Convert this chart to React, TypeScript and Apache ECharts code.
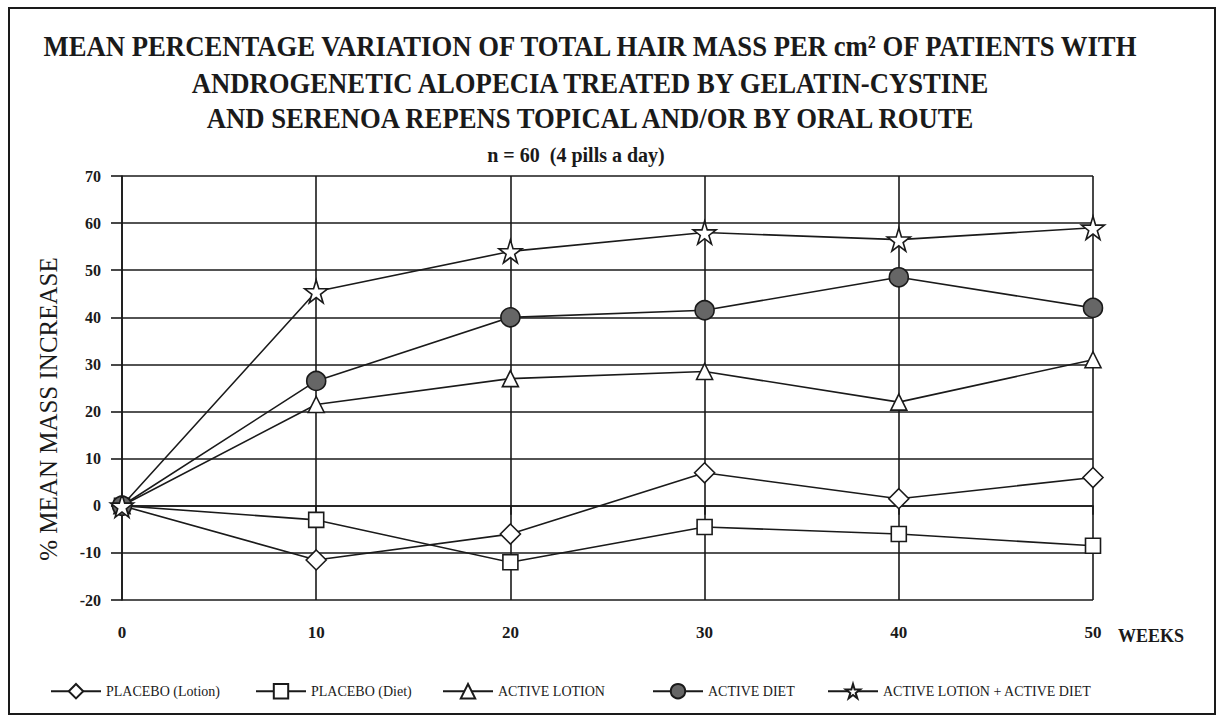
import React, { useEffect, useRef } from "react";
import * as echarts from "echarts";

const weeks = [0, 10, 20, 30, 40, 50];
const placeboLotion = [0, -11.5, -6, 7, 1.5, 6];
const placeboDiet = [0, -3, -12, -4.5, -6, -8.5];
const activeLotion = [0, 21.5, 27, 28.5, 22, 31];
const activeDiet = [0, 26.5, 40, 41.5, 48.5, 42];
const lotionPlusDiet = [0, 45.5, 54, 58, 56.5, 59];

const seriesNames = [
  "PLACEBO (Lotion)",
  "PLACEBO (Diet)",
  "ACTIVE LOTION",
  "ACTIVE DIET",
  "ACTIVE LOTION + ACTIVE DIET",
];
const titleLines = [
  "MEAN PERCENTAGE VARIATION OF TOTAL HAIR MASS PER cm² OF PATIENTS WITH",
  "ANDROGENETIC ALOPECIA TREATED BY GELATIN-CYSTINE",
  "AND SERENOA REPENS TOPICAL AND/OR BY ORAL ROUTE",
];
const subtitle = "n = 60  (4 pills a day)";
const yAxisTitle = "% MEAN MASS INCREASE";
const xAxisUnit = "WEEKS";

const STAR = "path://M50,0 L61,35 L98,35 L68,57 L79,91 L50,70 L21,91 L32,57 L2,35 L39,35 Z";

export default function App() {
  const ref = useRef<HTMLDivElement>(null);
  useEffect(() => {
    const chart = echarts.init(ref.current!, null, { renderer: "svg" });
    const ink = "#1a1a1a";
    const serif = "'Liberation Serif', 'DejaVu Serif', serif";
    const mk = (name: string, vals: number[], symbol: string, size: number, fill: string) => ({
      name,
      type: "line",
      data: weeks.map((w, i) => [w, vals[i]]),
      symbol,
      symbolSize: size,
      lineStyle: { color: ink, width: 1.6 },
      itemStyle: { color: fill, borderColor: ink, borderWidth: 1.6 },
      z: 3,
    });
    const legendLefts = [45, 250, 437, 647, 822];
    const titleYs = [46, 83, 118];
    chart.setOption({
      animation: false,
      backgroundColor: "#fff",
      textStyle: { fontFamily: serif },
      grid: { left: 122, top: 176, right: 126, bottom: 118 },
      xAxis: {
        type: "value",
        min: 0,
        max: 50,
        interval: 10,
        axisLine: { show: true, lineStyle: { color: ink, width: 1.6 } },
        axisTick: { show: true, length: 9, lineStyle: { color: ink, width: 1.6 } },
        splitLine: { show: true, lineStyle: { color: ink, width: 1.6 } },
        axisLabel: { margin: 24, fontSize: 17, fontWeight: "bold", color: ink, fontFamily: serif },
      },
      yAxis: {
        type: "value",
        min: -20,
        max: 70,
        interval: 10,
        axisLine: { show: true, lineStyle: { color: ink, width: 1.6 } },
        axisTick: { show: true, length: 11, lineStyle: { color: ink, width: 1.6 } },
        splitLine: { show: true, lineStyle: { color: ink, width: 1.6 } },
        axisLabel: { margin: 21, fontSize: 16, fontWeight: "bold", color: ink, fontFamily: serif },
      },
      legend: seriesNames.map((n, i) => ({
        data: [n],
        left: legendLefts[i],
        top: 678,
        itemWidth: 50,
        itemHeight: 18,
        itemGap: 10,
        textStyle: { fontSize: 14, color: ink, fontFamily: serif },
      })),
      series: [
        mk(seriesNames[0], placeboLotion, "diamond", 20, "#fff"),
        mk(seriesNames[1], placeboDiet, "rect", 15, "#fff"),
        mk(seriesNames[2], activeLotion, "triangle", 16, "#fff"),
        mk(seriesNames[3], activeDiet, "circle", 19, "#666"),
        mk(seriesNames[4], lotionPlusDiet, STAR, 23, "#fff"),
      ],
      graphic: [
        {
          type: "rect",
          shape: { x: 9, y: 8, width: 1206, height: 706 },
          style: { fill: "none", stroke: ink, lineWidth: 2 },
          silent: true,
        },
        ...titleLines.map((t, i) => ({
          type: "text",
          x: 590,
          y: titleYs[i],
          scaleX: 0.89,
          style: {
            text: t,
            font: `bold 30px ${serif}`,
            fill: ink,
            textAlign: "center",
            textVerticalAlign: "middle",
          },
        })),
        {
          type: "text",
          x: 576,
          y: 155,
          scaleX: 1.0,
          style: {
            text: subtitle,
            font: `bold 20px ${serif}`,
            fill: ink,
            textAlign: "center",
            textVerticalAlign: "middle",
          },
        },
        {
          type: "text",
          x: 48,
          y: 409,
          rotation: Math.PI / 2,
          style: {
            text: yAxisTitle,
            font: `25px ${serif}`,
            fill: ink,
            textAlign: "center",
            textVerticalAlign: "middle",
          },
        },
        {
          type: "text",
          x: 1118,
          y: 636,
          style: {
            text: xAxisUnit,
            font: `bold 18px ${serif}`,
            fill: ink,
            textAlign: "left",
            textVerticalAlign: "middle",
          },
        },
      ],
    });
    return () => chart.dispose();
  }, []);
  return (
    <div
      ref={ref}
      style={{ position: "fixed", left: 0, top: 0, width: 1219, height: 718 }}
    />
  );
}
